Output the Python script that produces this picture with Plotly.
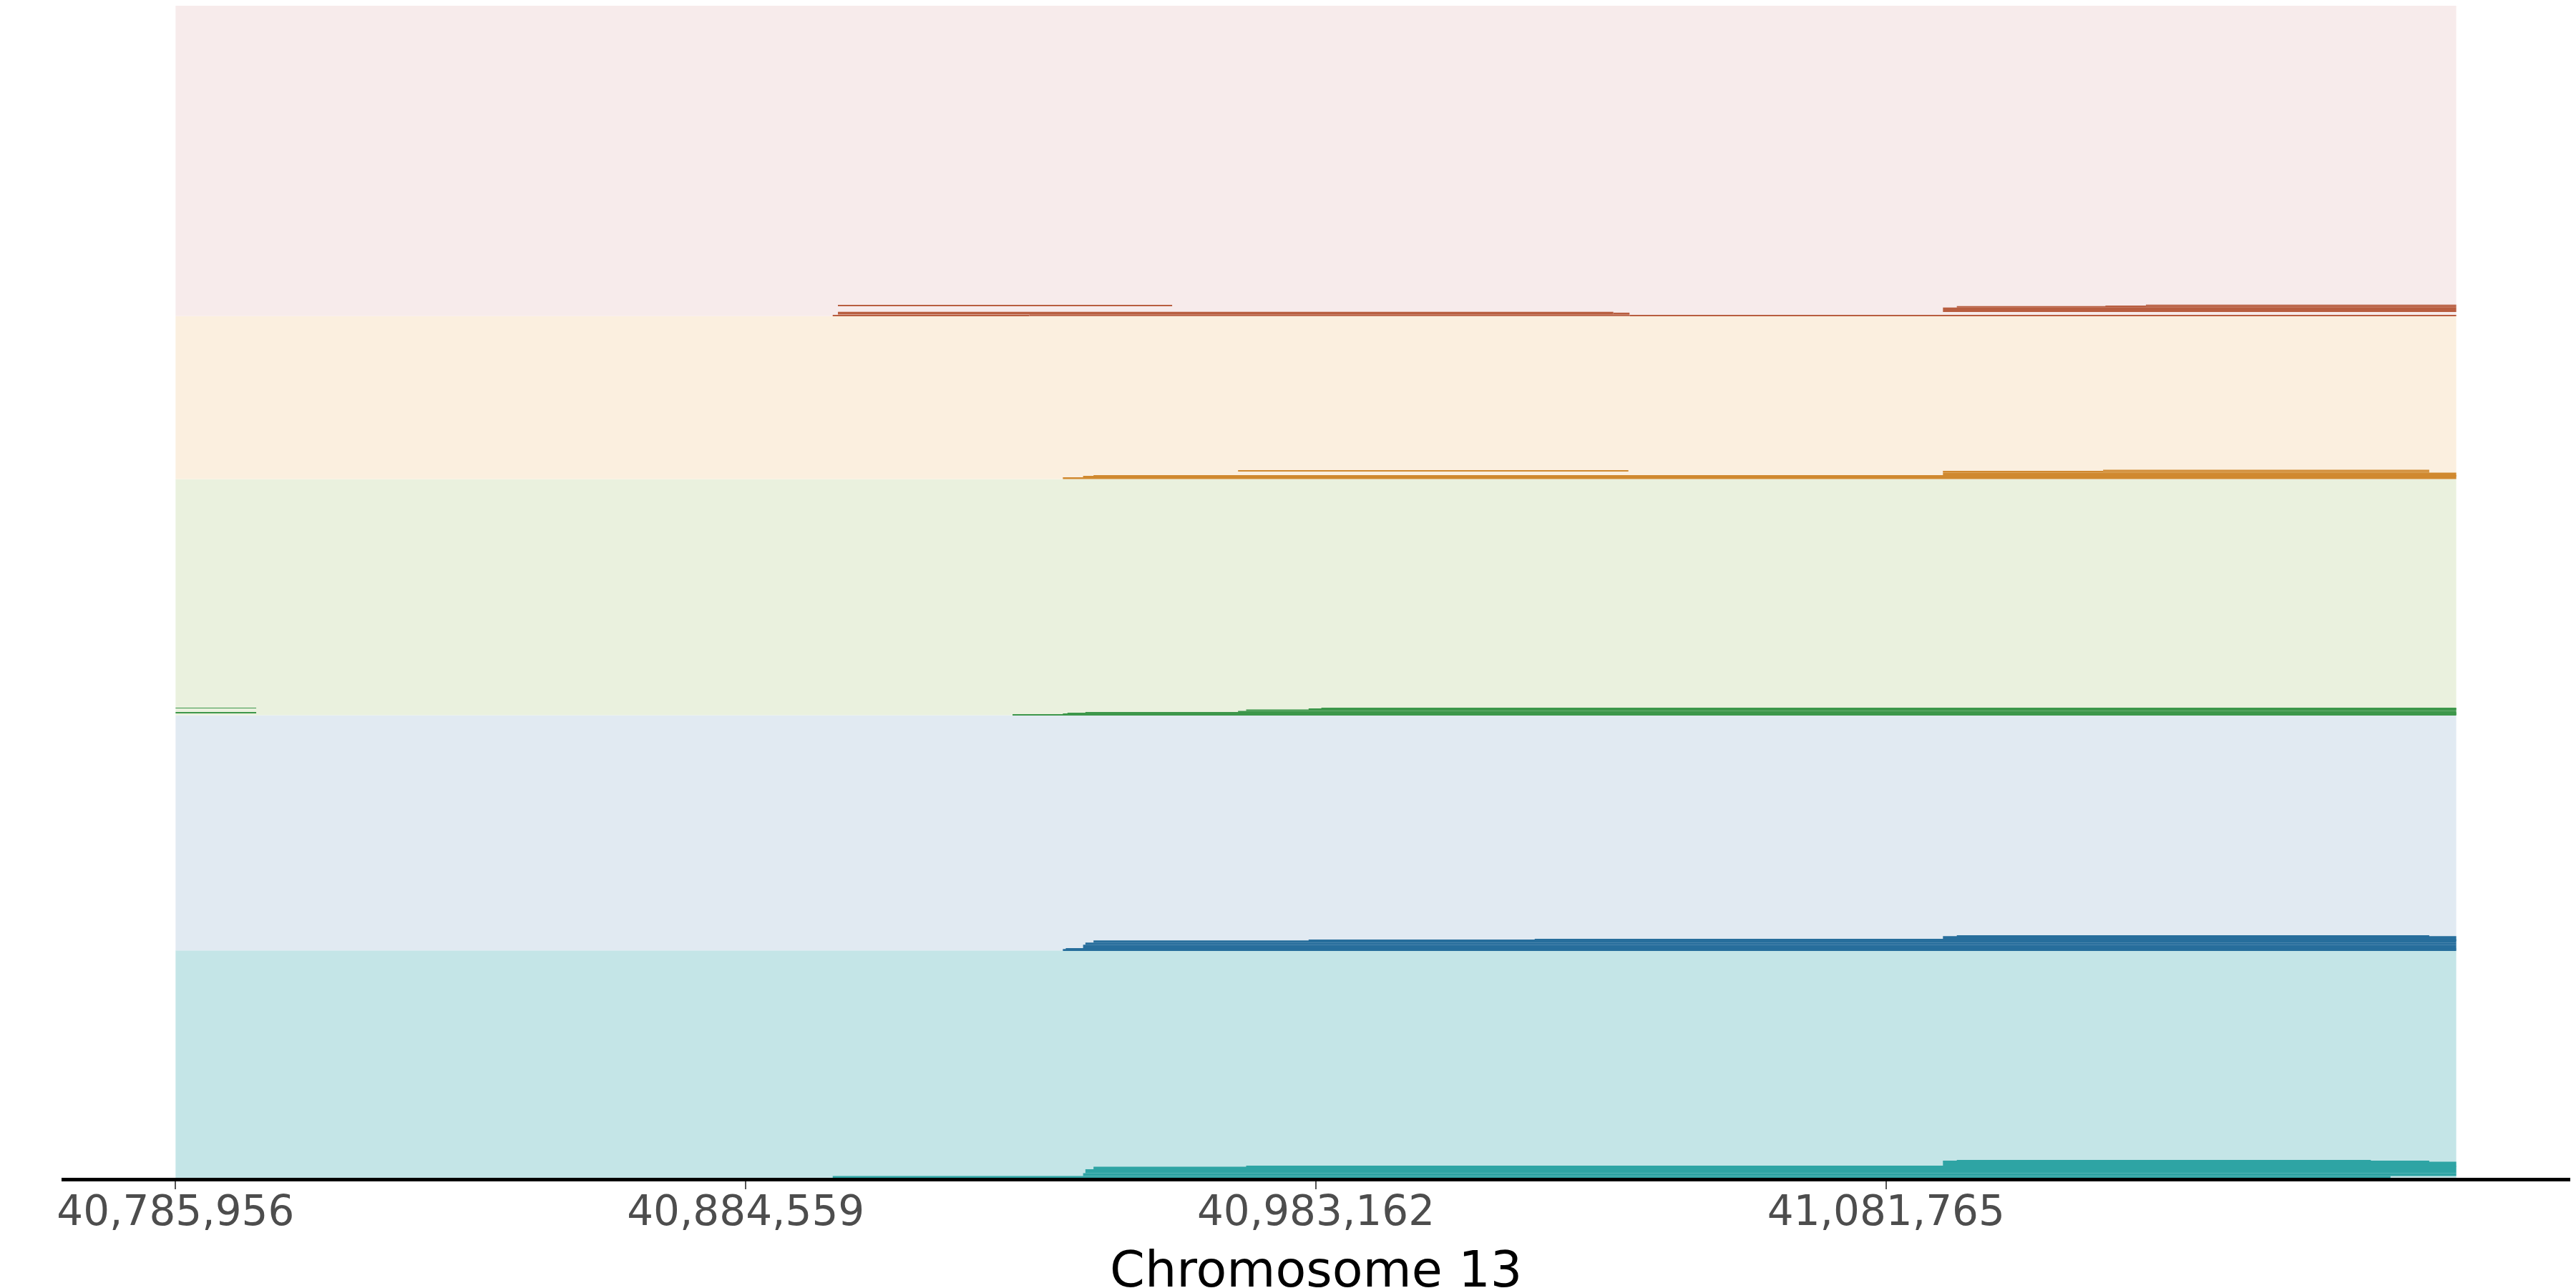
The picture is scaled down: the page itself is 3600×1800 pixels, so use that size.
import plotly.graph_objects as go

# ---------------- data ----------------
REGION_START = 40785956
REGION_END = 41180368
tick_values = [40785956, 40884559, 40983162, 41081765]
tick_labels = ["40,785,956", "40,884,559", "40,983,162", "41,081,765"]
x_title = "Chromosome 13"

# tracks listed bottom -> top
track_keys = ["teal", "blue", "green", "orange", "pink"]
track_rows = [318, 329, 330, 228, 434]  # band height in rows

# segments per track: start, end, row offset above band bottom, row thickness
teal_start = [40899600, 40942900, 40943300, 40944700, 40971100, 41091600, 41091600, 41094000]
teal_end = [41169000, 41180368, 41180368, 41180368, 41180368, 41180368, 41175700, 41165600]
teal_row = [0, 2.5, 6.5, 12, 15.5, 16.5, 22.5, 23.5]
teal_rows = [2.5, 4, 5.5, 3.5, 1, 6, 1, 1]

blue_start = [40939400, 40939900, 40942900, 40943300, 40944700, 40981900, 41021000, 41091600, 41094000]
blue_end = [41180368, 41180368, 41180368, 41180368, 41180368, 41180368, 41180368, 41180368, 41175700]
blue_row = [0, 2, 3, 8, 11, 14, 15, 16, 20]
blue_rows = [2, 1, 5, 3, 3, 1, 1, 4, 0.6]

green_start = [40785956, 40785956, 40930700, 40939400, 40940200, 40943300, 40969700, 40971100, 40981900, 40984100]
green_end = [40799900, 40799900, 41180368, 41180368, 41180368, 41180368, 41180368, 41180368, 41180368, 41180368]
green_row = [3.3, 9.5, 0, 1, 2.3, 3, 4, 6, 8, 9]
green_rows = [1, 0.6, 1, 1.3, 0.7, 1, 2, 2, 1, 1]

orange_start = [40939400, 40942900, 40944700, 40969700, 41091600, 41091600, 41091600, 41119300]
orange_end = [41180368, 41180368, 41180368, 41037200, 41180368, 41175700, 41119300, 41175700]
orange_row = [0, 2.7, 3.7, 11.3, 4.7, 9, 11, 11]
orange_rows = [2.7, 1, 1, 0.8, 4.3, 2, 0.6, 2]

pink_start = [40899600, 40900500, 40933600, 41034600, 41037400, 40900500, 41091600, 41094000, 41119700, 41126700]
pink_end = [40933600, 41034600, 41037400, 41037400, 41180368, 40958300, 41180368, 41180368, 41126700, 41180368]
pink_row = [0.5, 2.3, 0, 2.3, 0, 14.3, 5.7, 12, 14, 14]
pink_rows = [1, 3.7, 2.3, 2.5, 1.7, 0.8, 6.3, 2, 0.6, 2]

segments = {
    "teal": (teal_start, teal_end, teal_row, teal_rows),
    "blue": (blue_start, blue_end, blue_row, blue_rows),
    "green": (green_start, green_end, green_row, green_rows),
    "orange": (orange_start, orange_end, orange_row, orange_rows),
    "pink": (pink_start, pink_end, pink_row, pink_rows),
}

# ---------------- styles ----------------
dark_colors = {"teal": "#2ea4a4", "blue": "#276e9c", "green": "#3d974b",
               "orange": "#d0892f", "pink": "#b85e40"}
light_colors = {"teal": "#c4e5e7", "blue": "#e1eaf2", "green": "#eaf1de",
                "orange": "#fbefdf", "pink": "#f7ebeb"}

fig = go.Figure()
bottom = 0
for key, h in zip(track_keys, track_rows):
    fig.add_trace(go.Bar(
        orientation="h", base=[REGION_START], x=[REGION_END - REGION_START],
        y=[bottom + h / 2], width=[h], marker=dict(color=light_colors[key], line=dict(width=0)),
        hoverinfo="skip", showlegend=False))
    s, e, r, n = segments[key]
    fig.add_trace(go.Bar(
        orientation="h", base=s, x=[b - a for a, b in zip(s, e)],
        y=[bottom + ro + th / 2 for ro, th in zip(r, n)], width=n,
        marker=dict(color=dark_colors[key], line=dict(width=0)),
        hoverinfo="skip", showlegend=False))
    bottom += h
total_rows = bottom

span = REGION_END - REGION_START
pad = 0.05 * span

fig.update_layout(
    width=3600, height=1800, template="none",
    margin=dict(l=78, r=16, t=0, b=162),
    paper_bgcolor="white", plot_bgcolor="white",
    barmode="overlay", showlegend=False,
    xaxis=dict(range=[REGION_START - pad, REGION_END + pad], showgrid=False, zeroline=False,
               showline=True, linecolor="black", linewidth=5,
               ticks="outside", ticklen=11, tickwidth=2, tickcolor="#555555",
               tickvals=tick_values, ticktext=tick_labels, ticklabelstandoff=-20,
               tickfont=dict(family="DejaVu Sans", size=58, color="#4d4d4d")),
    yaxis=dict(range=[0, total_rows], visible=False, showgrid=False, zeroline=False),
    annotations=[dict(text=x_title, x=0.5, xref="paper", y=-0.052, yref="paper",
                      yanchor="top", xanchor="center", showarrow=False,
                      font=dict(family="DejaVu Sans", size=70, color="black"))],
)

fig.write_html("out.html")
